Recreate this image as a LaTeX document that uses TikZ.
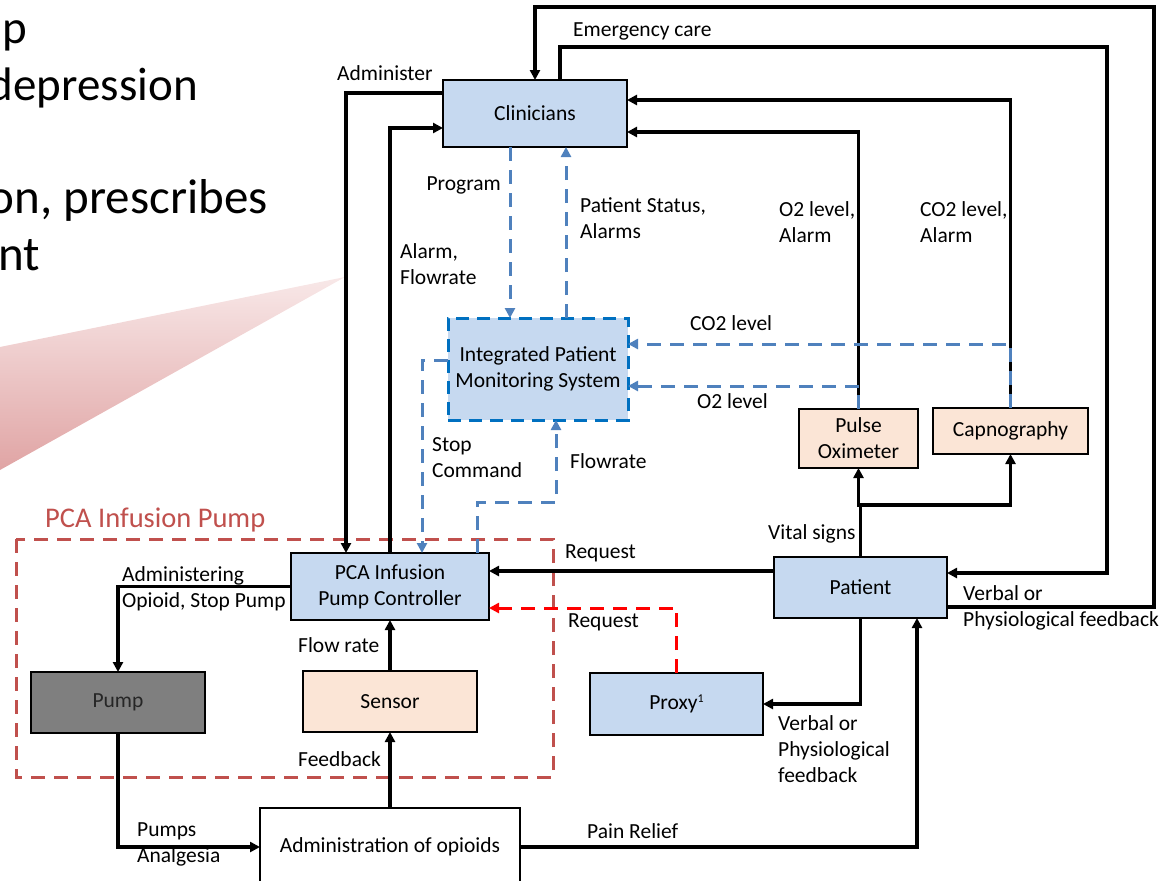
\documentclass[tikz,border=0pt]{standalone}
\usepackage{fontspec}
\setmainfont{Carlito}
\usetikzlibrary{arrows.meta,calc}
\definecolor{boxblue}{HTML}{C6D9F0}
\definecolor{peach}{HTML}{FBE5D6}
\definecolor{pumpgray}{HTML}{7F7F7F}
\definecolor{dashblue}{HTML}{4F81BD}
\definecolor{ipmsblue}{HTML}{0070C0}
\definecolor{pcared}{HTML}{C0504D}
\definecolor{calltop}{HTML}{F8E8E8}
\definecolor{callbot}{HTML}{E0A4A4}
\newcommand\diagfont{\fontsize{21.5}{26}\selectfont}
\tikzset{
  box/.style={draw=black, line width=2pt, fill=boxblue, inner sep=2pt, outer sep=0pt,
    align=center, font=\diagfont, anchor=north west},
  conn/.style={line width=3.2pt, draw=black},
  arr/.style={conn, -{Triangle[length=10pt,width=10pt]}},
  bluearr/.style={line width=3pt, draw=dashblue, dash pattern=on 14pt off 9pt,
    -{Triangle[length=10pt,width=10pt]}},
  redarr/.style={line width=3pt, draw=red, dash pattern=on 14pt off 9pt,
    -{Triangle[length=10pt,width=10pt]}},
  lbl/.style={anchor=base west, inner sep=0pt, align=left, font=\diagfont},
  slide/.style={anchor=base east, inner sep=0pt}
}
\begin{document}
\begin{tikzpicture}[x=1pt,y=-1pt]
\useasboundingbox (0,0) rectangle (1165,881);

% slide text (clipped at the left edge) and callout
\node[slide, font=\fontsize{47}{56}\selectfont] (s1) at (27,43) {up};
\node[slide, font=\fontsize{47}{56}\selectfont] (s2) at (198,100) {depression};
\node[slide, font=\fontsize{49}{58}\selectfont] (s3) at (268,213) {on, prescribes};
\node[slide, font=\fontsize{49}{58}\selectfont] (s4) at (40,270) {nt};
\shade[top color=calltop, bottom color=callbot] (345,277) -- (0,347) -- (0,470) -- cycle;

% PCA infusion pump group
\draw[pcared, line width=3pt, dash pattern=on 14pt off 9pt] (16,539) rectangle (553,777);
\node[anchor=base west, inner sep=0pt, text=pcared, font=\fontsize{28.5}{34}\selectfont] (pcalbl) at (45,527) {PCA Infusion Pump};

% boxes
\node[box, minimum width=184pt, minimum height=67pt] (clin) at (443,80) {Clinicians};
\node[box, draw=ipmsblue, line width=3pt, dash pattern=on 13pt off 8pt, minimum width=180pt, minimum height=102pt] (ipms) at (448,318) {Integrated Patient\\Monitoring System};
\node[box, minimum width=198pt, minimum height=67pt] (ctrl) at (291,553) {PCA Infusion\\Pump Controller};
\node[box, fill=pumpgray, text={black!85}, minimum width=174pt, minimum height=61pt] (pump) at (31,672) {Pump};
\node[box, fill=peach, minimum width=174pt, minimum height=61pt] (sensor) at (303,671) {Sensor};
\node[box, fill=white, minimum width=260pt, minimum height=78pt] (admin) at (260,808) {Administration of opioids};
\node[box, minimum width=173pt, minimum height=61pt] (patient) at (774,557) {Patient};
\node[box, minimum width=173pt, minimum height=62pt] (proxy) at (590,673) {Proxy\raisebox{0.7ex}{\fontsize{12}{14}\selectfont 1}};
\node[box, fill=peach, minimum width=119pt, minimum height=59pt] (pulse) at (799,409) {Pulse\\Oximeter};
\node[box, fill=peach, minimum width=155pt, minimum height=46pt] (capno) at (933,408) {Capnography};

% black connectors
\draw[arr] ([yshift=-19.5pt]patient.east) -| (1154,7) -| (clin.north);
\draw[arr] ([xshift=25pt]clin.north) |- (1107,47) |- ([yshift=14.5pt]patient.east);
\draw[arr] (capno.north) |- ([yshift=13.5pt]clin.east);
\draw[arr] (pulse.north) |- ([yshift=-18.5pt]clin.east);
\draw[arr] ([yshift=20.5pt]clin.west) -| ([xshift=-44pt]ctrl.north);
\draw[arr] (ctrl.north) |- ([yshift=-14.5pt]clin.west);
\draw[arr] (ctrl.west) -| (pump.north);
\draw[arr] (sensor.north) -- (ctrl.south);
\draw[arr] (admin.north -| sensor.south) -- (sensor.south);
\draw[arr] (pump.south) |- (admin.west);
\draw[arr] (admin.east) -| ([xshift=56.5pt]patient.south);
\draw[arr] ([yshift=16.5pt]patient.west) -- ([yshift=16.5pt]patient.west -| ctrl.east);
\draw[arr] (patient.south) |- (proxy.east);
\coordinate (vs) at ($(patient.north)+(0,-52)$);
\draw[arr] (patient.north) -- (vs) -| (capno.south);
\draw[arr] (vs) -| (pulse.south);

% dashed connectors
\draw[bluearr] (capno.north) |- ([yshift=25pt]ipms.east);
\draw[bluearr] (pulse.north) |- ([yshift=-17pt]ipms.east);
\draw[bluearr] ([xshift=-25pt]clin.south) -- ([xshift=-25pt]clin.south |- ipms.north);
\draw[bluearr] ([xshift=31pt]clin.south |- ipms.north) -- ([xshift=31pt]clin.south);
\draw[bluearr] ([yshift=9pt]ipms.west) -| ([xshift=32pt]ctrl.north);
\draw[bluearr] ([xshift=87pt]ctrl.north) -- ++(0,-51) -| ([xshift=18pt]ipms.south);
\draw[redarr] (proxy.north) |- ([yshift=-21.5pt]ctrl.east);

% labels (multi-line labels are placed by the baseline of their last line)
\node[lbl] (l1) at (573,36) {Emergency care};
\node[lbl] (l2) at (337,80) {Administer};
\node[lbl, anchor=base east] (l3) at (501,190) {Program};
\node[lbl] (l4) at (580,238) {Patient Status,\\Alarms};
\node[lbl] (l5) at (400,284) {Alarm,\\Flowrate};
\node[lbl] (l6) at (779,242) {O2 level,\\Alarm};
\node[lbl] (l7) at (920,242) {CO2 level,\\Alarm};
\node[lbl] (l8) at (690,330) {CO2 level};
\node[lbl] (l9) at (697,408) {O2 level};
\node[lbl] (l10) at (432,477) {Stop\\Command};
\node[lbl] (l11) at (570,468) {Flowrate};
\node[lbl] (l12) at (122,607) {Administering\\Opioid, Stop Pump};
\node[lbl] (l13) at (298,652) {Flow rate};
\node[lbl] (l14) at (298,766) {Feedback};
\node[lbl] (l15) at (137,862) {Pumps\\Analgesia};
\node[lbl] (l16) at (768,539) {Vital signs};
\node[lbl] (l17) at (565,558) {Request};
\node[lbl] (l18) at (568,627) {Request};
\node[lbl] (l19) at (963,626) {Verbal or\\Physiological feedback};
\node[lbl] (l20) at (778,782) {Verbal or\\Physiological\\feedback};
\node[lbl] (l21) at (587,838) {Pain Relief};
\end{tikzpicture}
\end{document}
